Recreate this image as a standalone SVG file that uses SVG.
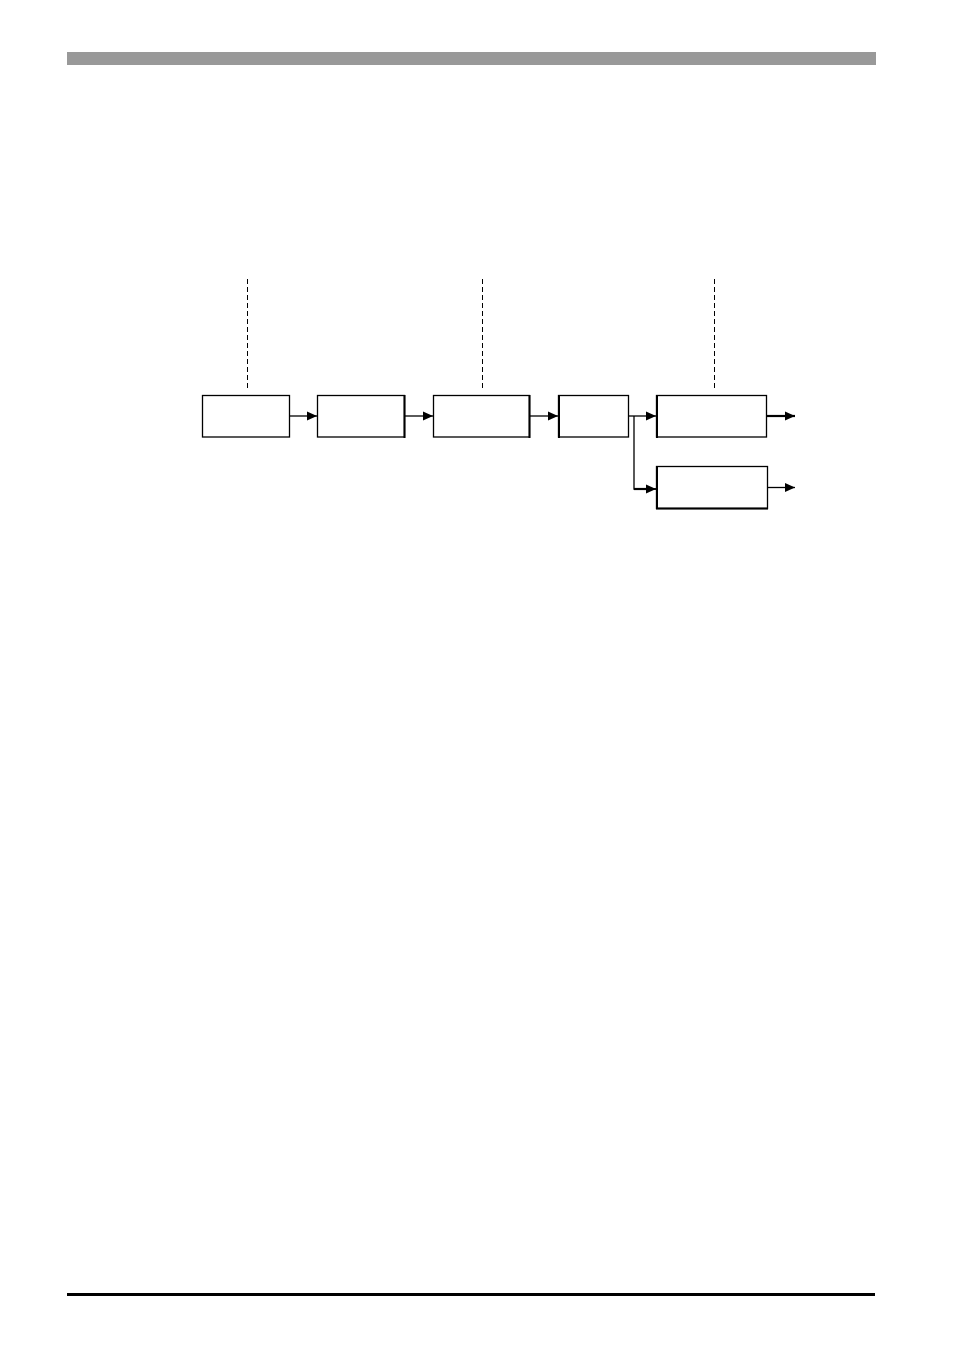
<svg xmlns="http://www.w3.org/2000/svg" width="954" height="1348" viewBox="0 0 954 1348">
<style>
.box{fill:#fff;stroke:#000;stroke-width:1.3}
.ln{fill:none;stroke:#000;stroke-width:1.3}
.dash{fill:none;stroke:#000;stroke-width:1;stroke-dasharray:5,3}
</style>
<defs>
<marker id="ah" markerUnits="userSpaceOnUse" markerWidth="10" markerHeight="10" refX="10" refY="5" orient="auto">
<path d="M0,0.5 L10,5 L0,9.5 Z" fill="#000"/>
</marker>
</defs>
<rect width="954" height="1348" fill="#fff"/>
<rect x="67" y="52" width="809" height="13" fill="#999"/>
<rect x="67" y="1293" width="808" height="3" fill="#000"/>
<g id="guides">
<line class="dash" x1="247.5" y1="279" x2="247.5" y2="389"/>
<line class="dash" x1="482.5" y1="279" x2="482.5" y2="389"/>
<line class="dash" x1="714.5" y1="279" x2="714.5" y2="389"/>
</g>
<g id="n1"><rect class="box" x="202.5" y="395.5" width="87" height="41.5"/></g>
<g id="n2"><rect class="box" x="317.5" y="395.5" width="87" height="41.5"/><line x1="404.5" y1="395" x2="404.5" y2="438" stroke="#000" stroke-width="2"/></g>
<g id="n3"><rect class="box" x="433.5" y="395.5" width="96" height="41.5"/><line x1="529.5" y1="395" x2="529.5" y2="438" stroke="#000" stroke-width="2"/></g>
<g id="n4"><rect class="box" x="558.5" y="395.5" width="70" height="41.5"/><line x1="559" y1="395" x2="559" y2="438" stroke="#000" stroke-width="2"/></g>
<g id="n5"><rect class="box" x="656.5" y="395.5" width="110" height="41.5"/><line x1="657" y1="395" x2="657" y2="438" stroke="#000" stroke-width="2"/></g>
<g id="n6"><rect class="box" x="656.5" y="466.5" width="111" height="42"/><line x1="657" y1="466" x2="657" y2="509" stroke="#000" stroke-width="2"/><line x1="656" y1="508.5" x2="768" y2="508.5" stroke="#000" stroke-width="2"/></g>
<g id="connectors">
<line class="ln" x1="289.5" y1="416" x2="317" y2="416" marker-end="url(#ah)"/>
<line class="ln" x1="404.5" y1="416" x2="433" y2="416" marker-end="url(#ah)"/>
<line class="ln" x1="529.5" y1="416" x2="558" y2="416" marker-end="url(#ah)"/>
<line class="ln" x1="628.5" y1="416" x2="656" y2="416" marker-end="url(#ah)"/>
<polyline class="ln" points="634,416 634,489 656,489"/>
<line x1="634" y1="489" x2="647" y2="489" stroke="#000" stroke-width="2.2"/>
<line class="ln" x1="646" y1="489" x2="656" y2="489" marker-end="url(#ah)"/>
<line x1="766.5" y1="416" x2="795" y2="416" stroke="#000" stroke-width="2.2" marker-end="url(#ah)"/>
<line class="ln" x1="767.5" y1="487.5" x2="795" y2="487.5" marker-end="url(#ah)"/>
</g>
</svg>
